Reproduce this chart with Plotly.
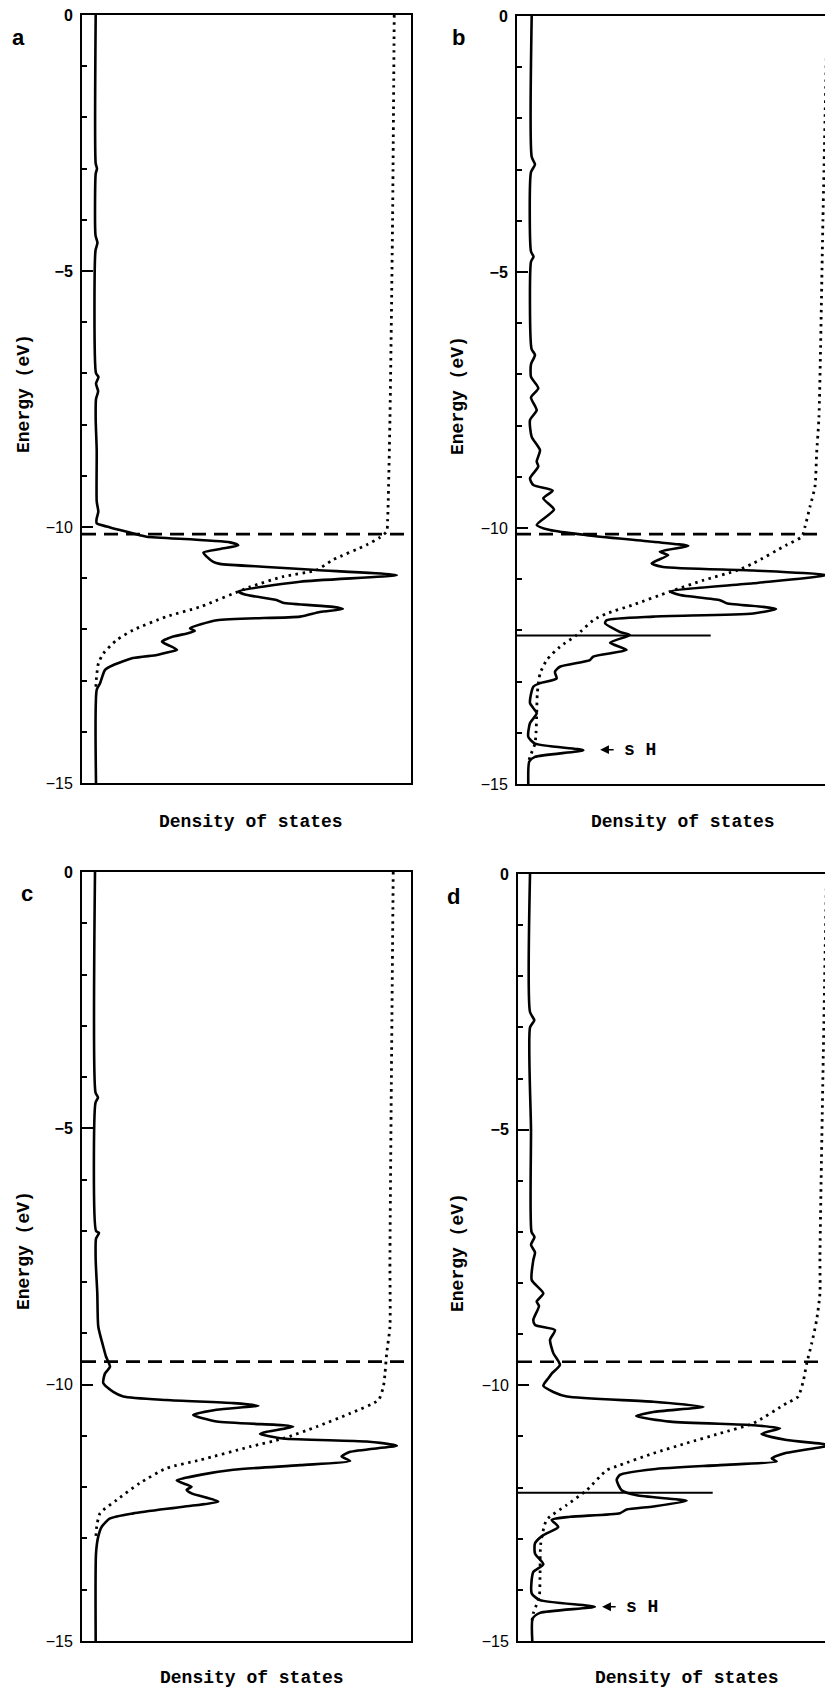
import plotly.graph_objects as go

W, H = 833, 1692
PAGE_OFFSET = 8  # the page body margin shifts the figure by 8 px; positions below are page pixels

# ---------------- data (energy in eV, density of states in arbitrary units, frame width = 100) -------------
# Panel a
A_SOLID_E = [0, -2.9, -3.0, -3.1, -4.3, -4.45, -4.6, -7.0, -7.07, -7.2, -7.35, -7.5, -7.9, -8.5, -9.5, -9.7,
             -9.85, -9.93, -9.99, -10.06, -10.16, -10.19, -10.30, -10.36, -10.43, -10.50, -10.58, -10.68,
             -10.72, -10.78, -10.84, -10.94, -11.07, -11.26, -11.32, -11.43, -11.48, -11.56, -11.60, -11.66,
             -11.75, -11.82, -11.98, -12.03, -12.08, -12.14, -12.24, -12.32, -12.40, -12.46, -12.50, -12.56,
             -12.70, -12.79, -13.05, -13.18, -15]
A_SOLID_D = [4.16, 4.16, 4.56, 4.16, 4.1, 4.7, 4.1, 4.26, 5.0, 4.26, 4.9, 4.26, 4.16, 4.47, 4.47, 4.96,
             4.41, 4.47, 7.51, 11.55, 17.6, 19.67, 45.0, 47.5, 42.0, 36.9, 37.9, 39.9,
             41.9, 56.2, 71.3, 95.7, 66.3, 47.5, 49.5, 59.3, 61.1, 76.3, 79.3, 72.3,
             66.3, 41.0, 32.8, 34.3, 31.9, 27.7, 24.3, 26.7, 28.9, 25.2, 22.8, 15.5,
             9.4, 7.0, 5.5, 4.47, 4.26]
A_INT_E = [0, -4, -7.9, -9.86, -10.09, -10.2, -10.35, -10.64, -10.84, -10.97, -11.17, -11.56, -11.75, -12.01,
           -12.21, -12.47, -12.66, -13.05, -13.2]
A_INT_D = [94.9, 94.4, 93.6, 92.9, 92.6, 90.6, 86.5, 76.3, 71.3, 61.1, 51.1, 35.9, 25.7, 15.6,
           10.5, 6.5, 5.0, 4.26, 4.26]
A_FERMI = -10.14

# Panel b
B_SOLID_E = [0, -2.75, -2.9, -3.05, -4.6, -4.7, -4.8, -6.5, -6.62, -6.8, -7.05, -7.27, -7.45, -7.70, -7.89,
             -8.22, -8.48, -8.70, -8.80, -9.03, -9.16, -9.27, -9.42, -9.64, -9.94, -10.04, -10.14, -10.27,
             -10.35, -10.46, -10.53, -10.69, -10.76, -10.83, -10.92, -11.08, -11.24, -11.31, -11.41, -11.47,
             -11.54, -11.58, -11.67, -11.73, -11.80, -11.86, -12.03, -12.09, -12.24, -12.38, -12.51, -12.58,
             -12.71, -12.81, -12.94, -13.03, -13.10, -13.42, -13.62, -13.81, -14.08, -14.21, -14.34, -14.47,
             -14.56, -15]
B_SOLID_D = [4.45, 4.45, 5.45, 4.24, 4.24, 5.0, 4.24, 4.4, 5.45, 4.24, 4.24, 6.45, 4.24, 5.97, 3.94,
             4.45, 6.97, 5.97, 6.45, 3.94, 4.94, 10.82, 7.97, 11.21, 5.97, 10.0, 21.1, 41.2,
             51.9, 43.3, 45.8, 40.8, 44.3, 71.6, 93.8, 71.6, 46.4, 49.4, 61.5, 63.5,
             74.6, 78.5, 71.6, 41.3, 27.2, 26.7, 31.2, 34.2, 28.2, 33.2, 23.1, 22.1,
             13.0, 11.5, 12.0, 6.97, 4.94, 3.94, 5.97, 3.94, 3.42, 5.45, 20.1, 5.45,
             3.73, 3.42]
B_INT_E = [0, -4, -7.83, -8.54, -9.19, -9.58, -9.97, -10.17, -10.33, -10.69, -10.83, -11.02, -11.24, -11.50,
           -11.67, -11.80, -12.09, -12.32, -12.58, -12.84, -13.23, -13.62, -14.01, -14.21, -14.47, -14.6]
B_INT_D = [94.0, 92.7, 91.5, 90.8, 90.3, 88.8, 87.3, 86.3, 81.7, 71.6, 66.6, 56.5, 46.4, 35.2,
           27.2, 23.1, 18.1, 13.0, 9.0, 7.0, 6.15, 5.97, 5.76, 5.45, 3.94, 3.42]
B_FERMI = -10.12
B_LEVEL_E = -12.10
B_LEVEL_D = 58.7
B_SH_E, B_SH_D = -14.33, 25.2

# Panel c
C_SOLID_E = [0, -4.3, -4.4, -4.5, -7.0, -7.04, -7.15, -7.57, -8.22, -8.87, -9.26, -9.45, -9.65, -9.78, -9.97,
             -10.14, -10.23, -10.30, -10.36, -10.41, -10.49, -10.59, -10.72, -10.79, -10.82, -10.92, -10.96,
             -11.05, -11.11, -11.19, -11.31, -11.40, -11.49, -11.57, -11.66, -11.76, -11.87, -11.99, -12.05,
             -12.12, -12.28, -12.38, -12.51, -12.61, -12.77, -12.96, -13.29, -15]
C_SOLID_D = [3.95, 4.1, 4.86, 4.1, 4.26, 5.17, 4.26, 4.16, 4.65, 4.95, 6.47, 7.29, 8.51, 6.99, 6.47,
             9.51, 12.55, 25.7, 46.0, 53.6, 40.9, 33.8, 40.9, 61.2, 64.2, 56.1, 54.1,
             61.2, 86.5, 95.7, 81.5, 78.9, 81.5, 66.3, 46.0, 35.9, 28.8, 33.3, 31.8,
             33.3, 41.4, 30.8, 15.6, 8.51, 6.0, 4.95, 4.26, 4.16]
C_INT_E = [0, -7.57, -8.87, -9.39, -9.78, -10.04, -10.30, -10.56, -10.82, -11.05, -11.21, -11.47, -11.63,
           -11.92, -12.25, -12.51, -12.77, -13.03]
C_INT_D = [94.6, 93.6, 93.6, 92.6, 92.1, 91.6, 90.1, 81.5, 71.3, 61.2, 51.1, 35.9, 25.7,
           17.6, 10.5, 5.47, 4.47, 4.16]
C_FERMI = -9.55

# Panel d
D_SOLID_E = [0, -2.7, -2.86, -3.0, -5.0, -7.0, -7.1, -7.25, -7.4, -7.55, -7.94, -8.20, -8.36, -8.45, -8.72,
             -8.82, -8.92, -9.11, -9.37, -9.60, -9.77, -9.86, -10.01, -10.13, -10.22, -10.32, -10.42, -10.52,
             -10.60, -10.71, -10.78, -10.84, -10.95, -11.07, -11.17, -11.32, -11.43, -11.49, -11.56, -11.64,
             -11.75, -11.85, -12.05, -12.15, -12.26, -12.37, -12.43, -12.50, -12.57, -12.63, -12.77, -12.93,
             -13.09, -13.29, -13.50, -13.65, -14.07, -14.20, -14.33, -14.45, -14.56, -15]
D_SOLID_D = [3.64, 3.64, 4.94, 3.64, 3.94, 4.1, 5.0, 3.94, 5.15, 4.64, 4.15, 7.67, 5.67, 6.36, 4.64,
             5.15, 11.2, 9.7, 10.7, 12.7, 10.2, 9.2, 7.67, 10.7, 14.8, 41.0, 56.2, 41.0,
             35.8, 46.1, 71.3, 79.4, 73.8, 81.4, 94.3, 81.4, 76.9, 78.4, 61.2, 41.0,
             30.9, 29.9, 31.4, 36.0, 51.1, 41.0, 32.9, 30.9, 15.8, 10.2, 12.2, 7.67,
             5.15, 5.15, 7.67, 4.64, 4.15, 6.67, 23.3, 6.67, 4.45, 4.33]
D_INT_E = [0, -7.48, -8.20, -8.72, -9.18, -9.57, -9.90, -10.22, -10.35, -10.74, -10.94, -11.13, -11.33,
           -11.56, -11.66, -12.05, -12.34, -12.63, -13.09, -13.74, -14.13, -14.46, -14.6]
D_INT_D = [93.5, 91.5, 91.5, 90.5, 89.0, 87.5, 86.5, 84.9, 81.4, 71.3, 61.2, 51.1, 41.0,
           30.9, 26.9, 20.8, 14.8, 8.7, 6.9, 6.67, 6.45, 4.64, 4.24]
D_FERMI = -9.54
D_LEVEL_E = -12.10
D_LEVEL_D = 59.0
D_SH_E, D_SH_D = -14.33, 25.5

Y_TICKS = [0, -5, -10, -15]
Y_TICK_TEXT = ["<b>0</b>", "<b>\u22125</b>", "\u221210", "\u221215"]
PANEL_LETTERS = ["a", "b", "c", "d"]
X_TITLE = "Density of states"
Y_TITLE = "Energy (eV)"
SH_LABEL = "s H"

# ---------------- layout geometry (page pixels) ----------------
panels = [
    dict(l=82, r=411, t=15, b=783, w=329, mirror=True),
    dict(l=517, r=833, t=16, b=784, w=330, mirror=False),
    dict(l=82, r=411, t=872, b=1641, w=329, mirror=True),
    dict(l=518, r=833, t=874, b=1641, w=330, mirror=False),
]

def fx(px):
    return (px - PAGE_OFFSET) / W

def fy(py):
    return 1 - (py - PAGE_OFFSET) / H

MONO = "Liberation Mono"
SANS = "Liberation Sans"

fig = go.Figure()

series = [
    (A_SOLID_E, A_SOLID_D, A_INT_E, A_INT_D, A_FERMI, None, None),
    (B_SOLID_E, B_SOLID_D, B_INT_E, B_INT_D, B_FERMI, (B_LEVEL_E, B_LEVEL_D), (B_SH_E, B_SH_D)),
    (C_SOLID_E, C_SOLID_D, C_INT_E, C_INT_D, C_FERMI, None, None),
    (D_SOLID_E, D_SOLID_D, D_INT_E, D_INT_D, D_FERMI, (D_LEVEL_E, D_LEVEL_D), (D_SH_E, D_SH_D)),
]

annotations = []
for i, (p, s) in enumerate(zip(panels, series)):
    n = i + 1
    xa = "x" if n == 1 else f"x{n}"
    ya = "y" if n == 1 else f"y{n}"
    xmax = (p["r"] - p["l"]) / p["w"] * 100
    se, sd, ie, idd, fermi, level, sh = s
    fig.add_trace(go.Scatter(x=idd, y=ie, mode="lines", xaxis=xa, yaxis=ya,
                             line=dict(color="black", width=2.8, dash="2.5px,4.5px", shape="spline", smoothing=0.6),
                             hoverinfo="skip"))
    fig.add_trace(go.Scatter(x=sd, y=se, mode="lines", xaxis=xa, yaxis=ya,
                             line=dict(color="black", width=2.6, shape="spline", smoothing=0.6),
                             hoverinfo="skip"))
    fig.add_trace(go.Scatter(x=[0, xmax], y=[fermi, fermi], mode="lines", xaxis=xa, yaxis=ya,
                             line=dict(color="black", width=2.6, dash="14px,8px"), hoverinfo="skip"))
    if level is not None:
        fig.add_trace(go.Scatter(x=[0, level[1]], y=[level[0], level[0]], mode="lines", xaxis=xa, yaxis=ya,
                                 line=dict(color="black", width=2), hoverinfo="skip"))
    if sh is not None:
        annotations.append(dict(x=sh[1], y=sh[0], xref=xa, yref=ya, text=SH_LABEL,
                                showarrow=True, axref="pixel", ayref="pixel", ax=40, ay=0,
                                arrowhead=2, arrowsize=1.1, arrowwidth=1.6, arrowcolor="black",
                                startstandoff=9, standoff=0,
                                font=dict(family=MONO, size=18, color="black", weight="bold")))

    xaxis = dict(domain=[fx(p["l"]), fx(p["r"])], range=[0, xmax], showline=True, linecolor="black",
                 linewidth=2, mirror=True, showticklabels=False, ticks="", showgrid=False, zeroline=False,
                 anchor=ya, fixedrange=True, automargin=False)
    yaxis = dict(domain=[fy(p["b"]), fy(p["t"])], range=[-15, 0], showline=True, linecolor="black",
                 linewidth=2, mirror=p["mirror"], ticks="inside", ticklen=11, tickwidth=1.8,
                 tickcolor="black", tickvals=Y_TICKS, ticktext=Y_TICK_TEXT, showgrid=False, zeroline=False,
                 tickfont=dict(family=SANS, size=16, color="black"), ticklabelstandoff=4,
                 ticklabeloverflow="allow",
                 minor=dict(ticks="inside", ticklen=5, tickwidth=1.5, tickcolor="black", dtick=1,
                            showgrid=False),
                 anchor=xa, fixedrange=True, automargin=False)
    key = "" if n == 1 else str(n)
    fig.update_layout(**{f"xaxis{key}": xaxis, f"yaxis{key}": yaxis})

letter_pos = [(18, 38), (459, 38), (27, 893), (453, 896)]
ytitle_pos = [(24, 394), (458, 396), (24, 1251), (458, 1253)]
xtitle_pos = [(251, 822), (683, 822), (252, 1678), (687, 1678)]
for i in range(4):
    lx, ly = letter_pos[i]
    annotations.append(dict(x=fx(lx), y=fy(ly), xref="paper", yref="paper", text=PANEL_LETTERS[i],
                            showarrow=False, xanchor="center", yanchor="middle",
                            font=dict(family=SANS, size=22, color="black", weight="bold")))
    tx, ty = ytitle_pos[i]
    annotations.append(dict(x=fx(tx), y=fy(ty), xref="paper", yref="paper", text=Y_TITLE,
                            showarrow=False, xanchor="center", yanchor="middle", textangle=-90,
                            font=dict(family=MONO, size=18, color="black", weight="bold")))
    bx, by = xtitle_pos[i]
    annotations.append(dict(x=fx(bx), y=fy(by), xref="paper", yref="paper", text=X_TITLE,
                            showarrow=False, xanchor="center", yanchor="middle",
                            font=dict(family=MONO, size=18, color="black", weight="bold")))

fig.update_layout(width=W, height=H, margin=dict(l=0, r=0, t=0, b=0, pad=0, autoexpand=False),
                  paper_bgcolor="white", plot_bgcolor="white", showlegend=False,
                  annotations=annotations)

fig.write_html("out.html")
